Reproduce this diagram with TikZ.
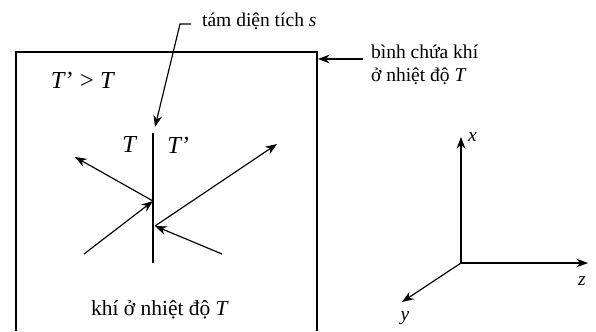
\documentclass[tikz,border=0pt]{standalone}
\usepackage{fontspec}
\setmainfont{Liberation Serif}
\usetikzlibrary{arrows.meta}

\begin{document}
\begin{tikzpicture}[x=0.018cm, y=-0.018cm, line width=0.6pt,
		>={Stealth[length=6pt,width=4.5pt]},
		bigT/.style={font=\fontsize{12.5}{14}\selectfont}]
	\useasboundingbox (0,0) rectangle (596,331);

	% gas container, open at the bottom
	\draw (16,331) |- (317,52) -- (317,331);
	\node [bigT] (ineq) at (83,80) {\textit{T}’ > \textit{T}};
	\node [font=\fontsize{11}{13}\selectfont] (gas) at (160,310) {khí ở nhiệt độ \textit{T}};

	% the plate
	\coordinate (ptop) at (153,133);
	\coordinate (pbot) at (153,263);
	\draw (ptop) -- (pbot);
	\node [bigT] (tleft) at (130,145) {\textit{T}};
	\node [bigT] (tright) at (179,145) {\textit{T}’};

	% labels with leaders
	\node [anchor=west] (plate) at (195,21) {tám diện tích \textit{s}};
	\draw [->] (191,24) -- (180,24) -- (155,127);
	\node [anchor=west, align=left] (vessel) at (364,65) {bình chứa khí\\ở nhiệt độ \textit{T}};
	\draw [->] (363,59) -- (318,59);

	% molecules hitting the plate
	\coordinate (hitL) at (153,201);
	\coordinate (hitR) at (155,226);
	\draw [->] (hitL) -- (75,157);
	\draw [->] (84,254) -- (hitL);
	\draw [->] (hitR) -- (277,144);
	\draw [->] (222,254) -- (hitR);

	% axes
	\coordinate (o) at (461,263);
	\draw [->] (o) -- (461,137) node [right] {\textit{x}};
	\draw [->] (o) -- (588,263);
	\node at (582,281) {\textit{z}};
	\draw [->] (o) -- (402,302);
	\node at (405,318) {\textit{y}};
\end{tikzpicture}
\end{document}
